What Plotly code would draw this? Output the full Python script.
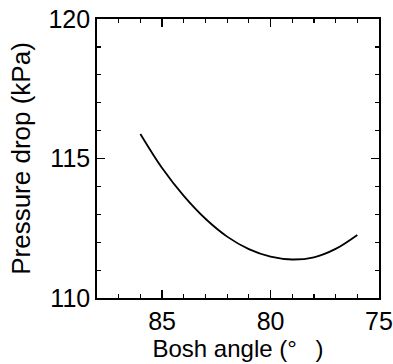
import plotly.graph_objects as go

bosh_angle = [86, 85, 84, 83, 82, 81, 80, 79, 78, 77, 76]
pressure_drop = [115.88, 114.66, 113.66, 112.84, 112.20, 111.75, 111.48, 111.38, 111.46, 111.76, 112.26]

x_ticks = [85, 80, 75]
y_ticks = [110, 115, 120]

font_family = "Liberation Sans, Arial, sans-serif"

fig = go.Figure()
fig.add_trace(go.Scatter(
    x=bosh_angle, y=pressure_drop, mode="lines",
    line=dict(color="black", width=1.8, shape="spline", smoothing=1.0),
    showlegend=False, hoverinfo="skip",
))

axis_common = dict(
    showline=True, linecolor="black", linewidth=1.8, mirror="allticks",
    ticks="inside", ticklen=8, tickwidth=1.5, tickcolor="black",
    showgrid=False, zeroline=False, automargin=False,
    tickfont=dict(family=font_family, size=25, color="black"),
    minor=dict(ticks="inside", ticklen=4, tickwidth=1.2, tickcolor="black",
               tickmode="linear", tick0=0, dtick=1, showgrid=False),
)

fig.update_xaxes(
    range=[88, 75], tickvals=x_ticks, ticktext=[str(v) for v in x_ticks],
    title=dict(text="Bosh angle (°\u2002 )", font=dict(family=font_family, size=24, color="black"), standoff=2),
    **axis_common,
)
fig.update_yaxes(
    range=[110, 120], tickvals=y_ticks, ticktext=[str(v) for v in y_ticks],
    title=dict(text="Pressure drop (kPa)", font=dict(family=font_family, size=26, color="black"), standoff=10),
    **axis_common,
)

fig.update_layout(
    width=393, height=364,
    margin=dict(l=97, r=14, t=19, b=66, pad=0),
    paper_bgcolor="white", plot_bgcolor="white",
    font=dict(family=font_family, color="black"),
)

fig.write_html(
    "out.html",
    config={"displayModeBar": False, "staticPlot": True},
    post_script="document.body.style.margin='0';document.body.style.overflow='hidden';",
)
